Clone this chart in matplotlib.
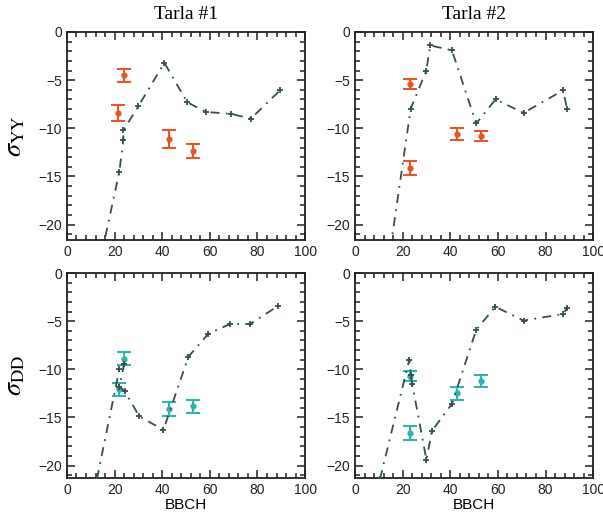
import matplotlib
matplotlib.use("Agg")
import matplotlib.pyplot as plt
from matplotlib.ticker import MultipleLocator

plt.rcParams['font.family'] = ['Liberation Sans', 'DejaVu Sans']
plt.rcParams['mathtext.fontset'] = 'stix'

# model curves (dash-dot lines with + markers)
tl_x = [12, 22, 23.7, 23.7, 30, 40.9, 50.5, 58.4, 68.9, 77.2, 89.5]
tl_y = [-26, -14.5, -11.2, -10.2, -7.7, -3.2, -7.3, -8.3, -8.5, -9.0, -6.05]

tr_x = [12, 23.4, 29.9, 31.6, 40.7, 50.9, 59, 70.8, 87.4, 89]
tr_y = [-27.4, -7.95, -4.05, -1.4, -1.9, -9.5, -7.0, -8.4, -6.05, -7.95]

bl_x = [12.6, 22, 24, 22, 24.3, 30.4, 40.5, 51, 59.4, 68.5, 76.9, 88.8]
bl_y = [-21.4, -10.0, -9.5, -11.8, -12.3, -14.9, -16.3, -8.7, -6.3, -5.3, -5.3, -3.4]

br_x = [10.5, 22.8, 23.5, 24, 30, 32.3, 40.7, 50.9, 58.9, 70.8, 87.4, 89]
br_y = [-21.4, -9.0, -10.6, -11.5, -19.4, -16.4, -13.6, -5.9, -3.5, -4.95, -4.25, -3.67]

# measurements with error bars
tl_mx = [23.9, 21.6, 43, 52.8]
tl_my = [-4.5, -8.4, -11.1, -12.35]
tl_me = [0.65, 0.85, 0.9, 0.75]

tr_mx = [23, 23, 43, 53]
tr_my = [-5.4, -14.1, -10.6, -10.8]
tr_me = [0.55, 0.74, 0.6, 0.55]

bl_mx = [23.9, 21.7, 43, 53.1]
bl_my = [-8.9, -12.1, -14.1, -13.85]
bl_me = [0.7, 0.7, 0.72, 0.65]

br_mx = [23, 23, 43, 53]
br_my = [-10.7, -16.6, -12.5, -11.2]
br_me = [0.5, 0.75, 0.7, 0.6]

titles = ['Tarla #1', 'Tarla #2']

line_col = '#34514a'
orange = '#e4572a'
teal = '#2fb3ad'

fig = plt.figure(figsize=(6.03, 5.21), dpi=100)
w = 0.395
pos = [
    [0.111, 0.5393, w, 0.3993],
    [0.5887, 0.5393, w, 0.3993],
    [0.111, 0.0825, w, 0.3935],
    [0.5887, 0.0825, w, 0.3935],
]
panels = [
    (tl_x, tl_y, tl_mx, tl_my, tl_me, orange, -21.6),
    (tr_x, tr_y, tr_mx, tr_my, tr_me, orange, -21.6),
    (bl_x, bl_y, bl_mx, bl_my, bl_me, teal, -21.3),
    (br_x, br_y, br_mx, br_my, br_me, teal, -21.3),
]

for i, (lx, ly, mx, my, me, col, ymin) in enumerate(panels):
    ax = fig.add_axes(pos[i])
    ax.errorbar(mx, my, yerr=me, fmt='o', color=col, ms=3.5, elinewidth=1.5,
                capsize=5, capthick=1.5, zorder=2)
    ax.plot(lx, ly, color=line_col, lw=1.3, dashes=(5, 3.5, 1, 3.5),
            marker='+', ms=5, mew=1.3, zorder=3)
    ax.set_xlim(0, 100)
    ax.set_ylim(ymin, 0)
    ax.xaxis.set_major_locator(MultipleLocator(20))
    ax.xaxis.set_minor_locator(MultipleLocator(4))
    ax.yaxis.set_major_locator(MultipleLocator(5))
    ax.yaxis.set_minor_locator(MultipleLocator(1))
    ax.tick_params(which='both', direction='in', top=True, right=True,
                   labelsize=10, width=1.1, colors='#222222')
    ax.tick_params(which='major', length=6)
    ax.tick_params(which='minor', length=3.5)
    for sp in ax.spines.values():
        sp.set_linewidth(1.3)
        sp.set_color('#222222')
    if i < 2:
        ax.set_title(titles[i], fontsize=14, family='Liberation Serif', pad=9)
    else:
        ax.set_xlabel('BBCH', fontsize=11, labelpad=1)
    if i == 0:
        ax.set_ylabel(r'$\sigma_{\mathrm{YY}}$', fontsize=19, labelpad=8)
    if i == 2:
        ax.set_ylabel(r'$\sigma_{\mathrm{DD}}$', fontsize=19, labelpad=8)

fig.savefig('out.png', dpi=100)
